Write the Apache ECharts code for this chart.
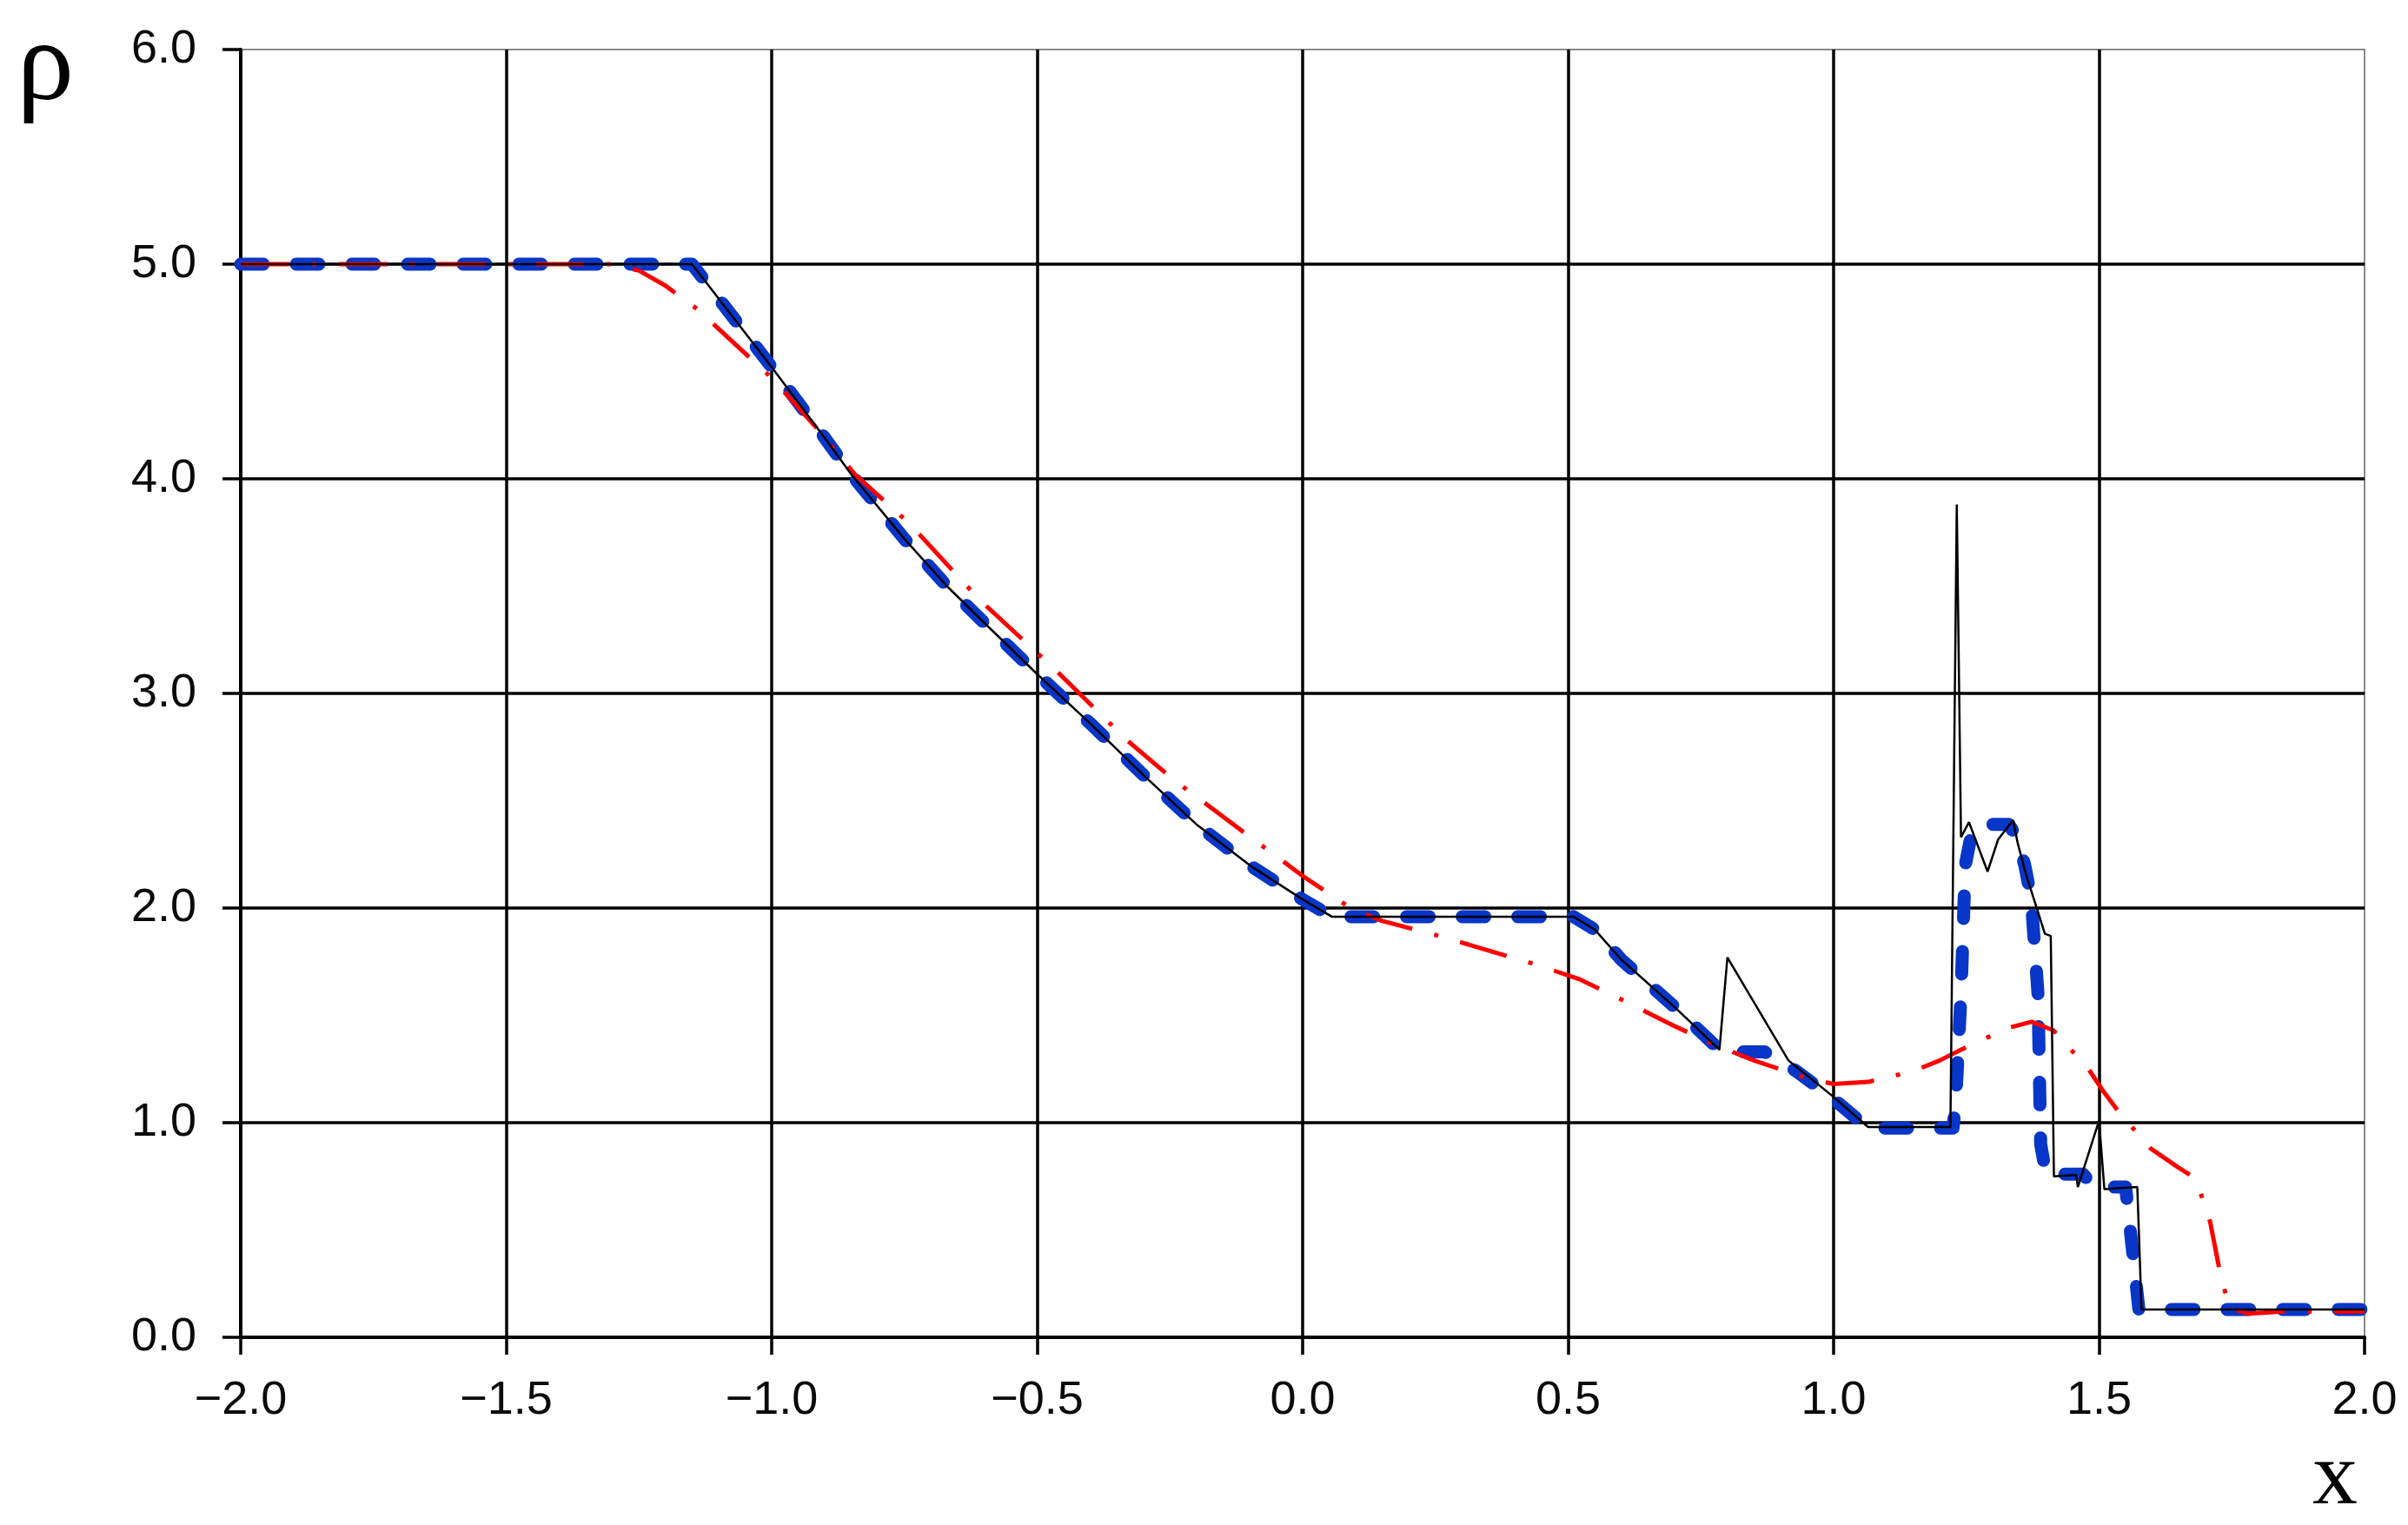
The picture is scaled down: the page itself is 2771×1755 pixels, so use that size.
<!DOCTYPE html>
<html>
<head>
<meta charset="utf-8">
<script src="https://cdn.jsdelivr.net/npm/echarts@6/dist/echarts.min.js"></script>
<style>
html,body{margin:0;padding:0;background:#fff;}
#chart{width:2771px;height:1755px;}
</style>
</head>
<body>
<div id="chart"></div>
<script>
// ---- data ----
const xTickLabels = ['\u22122.0','\u22121.5','\u22121.0','\u22120.5','0.0','0.5','1.0','1.5','2.0'];
const yTickLabels = ['0.0','1.0','2.0','3.0','4.0','5.0','6.0'];

// thin black solid line
const exactRho = [
  [-2.0,5.0],[-1.15,5.0],[-1.10,4.84],[-1.0,4.52],[-0.9,4.19],[-0.85,4.02],[-0.75,3.72],
  [-0.67,3.50],[-0.6,3.33],[-0.5,3.09],[-0.4,2.86],[-0.3,2.62],[-0.2,2.39],[-0.1,2.20],
  [0.0,2.04],[0.055,1.96],[0.51,1.96],[0.55,1.90],[0.6,1.76],[0.7,1.54],[0.785,1.34],
  [0.80,1.77],[0.915,1.29],[1.0,1.12],[1.065,0.98],[1.22,0.98],[1.232,3.88],[1.24,2.33],
  [1.255,2.40],[1.29,2.17],[1.31,2.32],[1.338,2.41],[1.347,2.30],[1.362,2.16],[1.398,1.88],
  [1.409,1.87],[1.415,0.75],[1.457,0.756],[1.46,0.70],[1.50,1.01],[1.51,0.69],[1.572,0.70],
  [1.58,0.13],[2.0,0.13]
];

// thick blue dashed line
const schemeBlue = [
  [-2.0,5.0],[-1.15,5.0],[-1.10,4.84],[-1.0,4.52],[-0.9,4.19],[-0.85,4.02],[-0.75,3.72],
  [-0.67,3.50],[-0.6,3.33],[-0.5,3.09],[-0.4,2.86],[-0.3,2.62],[-0.2,2.39],[-0.1,2.20],
  [0.0,2.04],[0.055,1.96],[0.51,1.96],[0.55,1.90],[0.6,1.76],[0.7,1.54],[0.785,1.34],
  [0.80,1.33],[0.87,1.33],[0.93,1.24],[1.0,1.11],[1.065,0.975],[1.225,0.975],[1.23,1.1],
  [1.24,1.6],[1.248,2.2],[1.26,2.35],[1.275,2.39],[1.33,2.39],[1.345,2.33],[1.36,2.2],
  [1.372,2.05],[1.385,1.6],[1.39,0.9],[1.40,0.76],[1.47,0.76],[1.49,0.70],[1.55,0.70],
  [1.575,0.13],[2.0,0.13]
];

// red dash-dot line
const schemeRed = [
  [-2.0,5.0],[-1.30,5.0],[-1.25,4.97],[-1.2,4.9],[-1.14,4.79],[-1.07,4.63],[-1.0,4.47],
  [-0.92,4.25],[-0.843,4.02],[-0.74,3.79],[-0.61,3.44],[-0.47,3.12],[-0.33,2.78],
  [-0.244,2.60],[-0.12,2.37],[0.0,2.15],[0.09,2.0],[0.15,1.94],[0.257,1.87],[0.435,1.74],
  [0.52,1.67],[0.612,1.56],[0.70,1.45],[0.779,1.36],[0.85,1.29],[0.946,1.21],[1.0,1.18],
  [1.065,1.19],[1.15,1.24],[1.2,1.29],[1.24,1.34],[1.327,1.44],[1.373,1.47],[1.414,1.43],
  [1.48,1.25],[1.507,1.15],[1.537,1.05],[1.597,0.88],[1.65,0.79],[1.676,0.75],[1.69,0.68],
  [1.709,0.54],[1.728,0.30],[1.745,0.14],[1.78,0.11],[1.85,0.12],[2.0,0.12]
];

// ---- chart ----
const chart = echarts.init(document.getElementById('chart'), null, {renderer:'canvas'});
const labelFont = {fontFamily:'Liberation Sans, Arial, sans-serif', fontSize:54, color:'#0a0a0a'};

chart.setOption({
  animation:false,
  backgroundColor:'#fff',
  grid:{left:277, right:50, top:57, bottom:214, show:true, borderColor:'#8a8a8a', borderWidth:2, backgroundColor:'transparent'},
  xAxis:{
    type:'value', min:-2, max:2, interval:0.5,
    name:'x', nameLocation:'end', nameGap:0,
    nameTextStyle:{fontFamily:'Liberation Serif, Times New Roman, serif', fontSize:104, color:'#000',
      align:'right', verticalAlign:'top', padding:[112,8,0,0]},
    axisLine:{onZero:false, lineStyle:{color:'#000', width:4}},
    axisTick:{show:true, inside:false, length:20, lineStyle:{color:'#000', width:3.5}},
    axisLabel:Object.assign({margin:46, formatter:(v)=>xTickLabels[Math.round((v+2)/0.5)]}, labelFont),
    splitLine:{show:true, showMinLine:false, showMaxLine:false, lineStyle:{color:'#000', width:3.5}}
  },
  yAxis:{
    type:'value', min:0, max:6, interval:1,
    name:'\u03c1', nameLocation:'end', nameGap:-22,
    nameTextStyle:{fontFamily:'Liberation Serif, Times New Roman, serif', fontSize:132, color:'#000',
      align:'right', verticalAlign:'middle', padding:[0,192,0,0]},
    axisLine:{onZero:false, lineStyle:{color:'#000', width:4}},
    axisTick:{show:true, inside:false, length:21, lineStyle:{color:'#000', width:3.5}},
    axisLabel:Object.assign({margin:51, formatter:(v)=>yTickLabels[Math.round(v)]}, labelFont),
    splitLine:{show:true, showMinLine:false, showMaxLine:false, lineStyle:{color:'#000', width:3.5}}
  },
  series:[
    {name:'blue', type:'line', data:schemeBlue, showSymbol:false, symbol:'none', z:2,
      lineStyle:{color:'#0836c8', width:15, type:[26,38], cap:'round', join:'round'}},
    {name:'red', type:'line', data:schemeRed, showSymbol:false, symbol:'none', z:3,
      lineStyle:{color:'#ff0000', width:5, type:[56,26,5,26], cap:'butt'}},
    {name:'black', type:'line', data:exactRho, showSymbol:false, symbol:'none', z:4,
      lineStyle:{color:'#000', width:2.5}}
  ]
});
</script>
</body>
</html>
